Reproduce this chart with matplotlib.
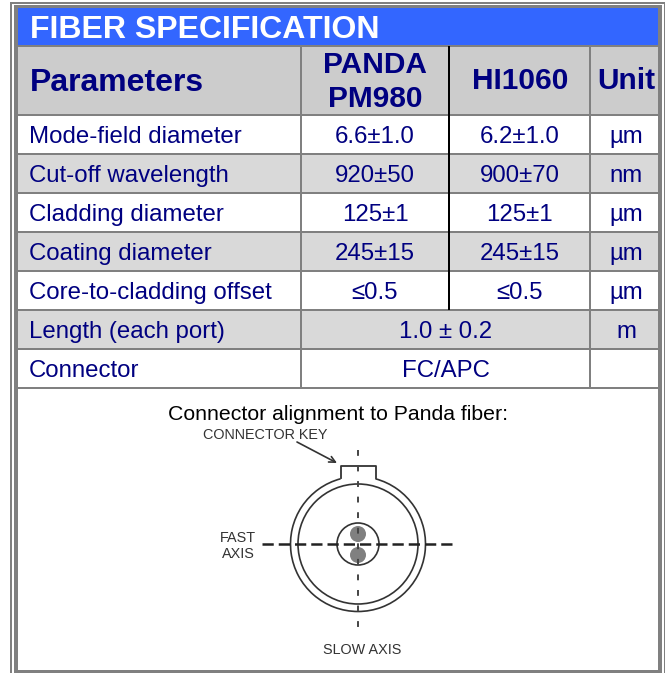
import matplotlib
matplotlib.use("Agg")
import matplotlib.pyplot as plt
import matplotlib.patches as patch

plt.rcParams['font.family'] = ['Liberation Sans', 'DejaVu Sans']

title = "FIBER SPECIFICATION"
headers = ["Parameters", "PANDA", "PM980", "HI1060", "Unit"]
parameters = ["Mode-field diameter", "Cut-off wavelength", "Cladding diameter",
              "Coating diameter", "Core-to-cladding offset"]
panda = ["6.6±1.0", "920±50", "125±1", "245±15", "≤0.5"]
hi1060 = ["6.2±1.0", "900±70", "125±1", "245±15", "≤0.5"]
units = ["µm", "nm", "µm", "µm", "µm"]
merged_names = ["Length (each port)", "Connector"]
merged_values = ["1.0 ± 0.2", "FC/APC"]
merged_units = ["m", ""]

NAVY = "#000080"
LINE = "#808080"
BLUE = "#3366FF"

fig = plt.figure(figsize=(6.65, 6.73), dpi=100)
ax = fig.add_axes([0, 0, 1, 1])
ax.set_xlim(0, 665)
ax.set_ylim(673, 0)
ax.axis("off")


def rect(x0, y0, x1, y1, color, z=1):
    ax.add_patch(patch.Rectangle((x0, y0), x1 - x0, y1 - y0, facecolor=color, edgecolor="none", zorder=z))


# frame
rect(10, 1.5, 665, 3.5, LINE)
rect(10, 1.5, 12, 673, LINE)
rect(664, 1.5, 665, 673, LINE)
rect(14, 5, 18, 673, LINE)
rect(14, 5, 662, 7.5, LINE)
rect(658, 5, 662, 673, LINE)
rect(14, 670, 662, 673, LINE)

# bands
L, R = 18, 658
rect(L, 8, R, 45, BLUE)
rect(L, 45, R, 115, "#CCCCCC")
row_y = [115, 154, 193, 232, 271, 310, 349, 388]
for i in range(7):
    if i % 2 == 1:
        rect(L, row_y[i], R, row_y[i + 1], "#D9D9D9")

# grid
for y in [46] + row_y:
    rect(L, y - 1, R, y + 1, LINE, 2)
for x in [301, 590]:
    rect(x - 1, 46, x + 1, 388, LINE, 3)
rect(448, 46, 450, 310, "black", 3)

# texts, all on fixed baselines
ax.text(30, 37.5, title, color="white", fontsize=23, fontweight="bold", va="baseline")
ax.text(30, 91, headers[0], color=NAVY, fontsize=23, fontweight="bold", va="baseline")
ax.text(375, 73, headers[1], color=NAVY, fontsize=21.5, fontweight="bold", va="baseline", ha="center")
ax.text(375, 107, headers[2], color=NAVY, fontsize=21.5, fontweight="bold", va="baseline", ha="center")
ax.text(520, 89, headers[3], color=NAVY, fontsize=21.5, fontweight="bold", va="baseline", ha="center")
ax.text(626.5, 89, headers[4], color=NAVY, fontsize=21.5, fontweight="bold", va="baseline", ha="center")

BODY = 17.3
for i in range(5):
    y = row_y[i] + 28
    ax.text(29, y, parameters[i], color=NAVY, fontsize=BODY, va="baseline")
    ax.text(375, y, panda[i], color=NAVY, fontsize=BODY, va="baseline", ha="center")
    ax.text(519.5, y, hi1060[i], color=NAVY, fontsize=BODY, va="baseline", ha="center")
    ax.text(626, y, units[i], color=NAVY, fontsize=BODY, va="baseline", ha="center")
for i in range(2):
    y = row_y[i + 5] + 28
    ax.text(29, y, merged_names[i], color=NAVY, fontsize=BODY, va="baseline")
    ax.text(445.5, y, merged_values[i], color=NAVY, fontsize=BODY, va="baseline", ha="center")
    ax.text(626, y, merged_units[i], color=NAVY, fontsize=BODY, va="baseline", ha="center")

ax.text(338.5, 420, "Connector alignment to Panda fiber:", color="black", fontsize=15.3, va="baseline", ha="center")

# connector drawing
cx, cy = 358, 544
INK = "#333333"
ax.add_patch(patch.Arc((cx, cy), 135, 135, theta1=-75, theta2=255, color=INK, lw=1.2, zorder=4))
ax.add_patch(patch.Circle((cx, cy), 60, fill=False, edgecolor=INK, lw=1.2, zorder=4))
ax.add_patch(patch.Circle((cx, cy), 21, fill=False, edgecolor=INK, lw=1.2, zorder=4))
ax.add_patch(patch.Circle((cx, cy - 10), 8, facecolor="#808080", edgecolor="none", zorder=4))
ax.add_patch(patch.Circle((cx, cy + 11), 8, facecolor="#808080", edgecolor="none", zorder=4))
ax.plot([341, 341, 376, 376], [478, 466, 466, 478], color=INK, lw=1.3, zorder=4)
ax.plot([262, 456], [cy, cy], color="#222222", lw=1.8, dashes=(4.5, 2), zorder=5)
ax.plot([cx, cx], [450, 633], color="#444444", lw=1.4, dashes=(3, 5), zorder=5)
ax.annotate("", xy=(337, 463), xytext=(297, 442),
            arrowprops=dict(arrowstyle="->", color=INK, lw=1.2, mutation_scale=11, shrinkA=0, shrinkB=0))

ax.text(265, 439, "CONNECTOR KEY", color=INK, fontsize=10.4, va="baseline", ha="center")
ax.text(238, 542, "FAST", color=INK, fontsize=10.4, va="baseline", ha="center")
ax.text(238, 558, "AXIS", color=INK, fontsize=10.4, va="baseline", ha="center")
ax.text(362, 654, "SLOW AXIS", color=INK, fontsize=10.4, va="baseline", ha="center")

fig.savefig("out.png", dpi=100)
